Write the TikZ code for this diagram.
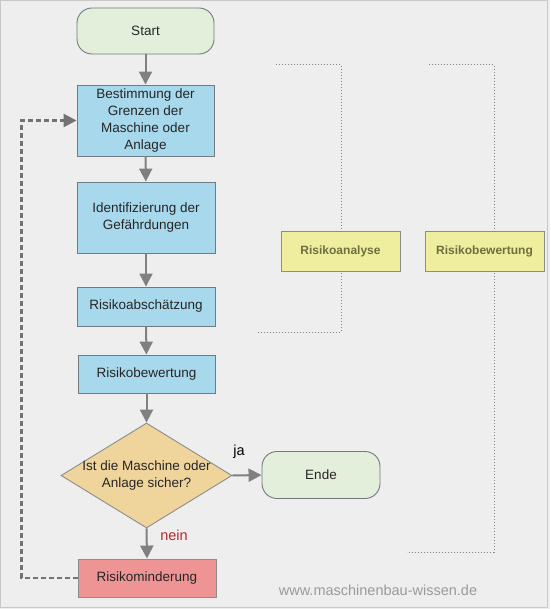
\documentclass[tikz,border=0pt]{standalone}
\usepackage{fontspec}
\setmainfont{Liberation Sans}
\usetikzlibrary{arrows.meta,shapes.geometric}
\definecolor{bg}{HTML}{EEEEEE}
\definecolor{frame}{HTML}{C8C8C8}
\definecolor{greenfill}{HTML}{E3EFDA}
\definecolor{bluefill}{HTML}{A7D8EC}
\definecolor{tanfill}{HTML}{EFD59C}
\definecolor{redfill}{HTML}{EE9494}
\definecolor{yelfill}{HTML}{EEEE9E}
\definecolor{yeltext}{HTML}{6E6E40}
\definecolor{edge}{HTML}{707A80}
\definecolor{arrowgray}{HTML}{808080}
\definecolor{neinred}{HTML}{B5282A}
\definecolor{webgray}{HTML}{9A9A9A}
\begin{document}
\begin{tikzpicture}[x=1pt,y=-1pt,
  base/.style={draw=edge,line width=0.9pt,align=center,inner sep=2pt,font=\fontsize{13.5}{17}\selectfont,text=black!85},
  term/.style={base,fill=greenfill,rounded corners=15pt},
  procbox/.style={base,fill=bluefill},
  decide/.style={base,diamond,aspect=1.63,fill=tanfill,draw=black!45,inner sep=-8pt},
  fixbox/.style={base,fill=redfill,draw=black!45},
  phase/.style={draw=black!45,line width=0.9pt,fill=yelfill,font=\bfseries\fontsize{12}{14}\selectfont,text=yeltext,minimum width=119pt,minimum height=40pt},
  flow/.style={draw=arrowgray,line width=2pt,-{Triangle[length=13pt,width=13pt]}},
  back/.style={draw=black!55,line width=2.5pt,dash pattern=on 5pt off 3pt,-{Triangle[length=13pt,width=13pt]}},
  bracket/.style={draw=black!50,line width=1pt,dotted}
]
\fill[bg] (0,0) rectangle (550,609);
\draw[frame,line width=1pt] (0.5,0.5) rectangle (547.5,607);

% dotted brackets
\draw[bracket] (276,65) -- (341,65) -- (341,332) -- (256,332);
\draw[bracket] (429,65) -- (494,65) -- (494,552) -- (407,552);

\node[phase] (ra) at (340.5,251) {Risikoanalyse};
\node[phase] (rb) at (484.5,251) {Risikobewertung};

\node[term,minimum width=137pt,minimum height=46pt] (start) at (145.5,31) {Start};
\node[procbox,minimum width=137pt,minimum height=71pt] (b1) at (145.5,120.5) {Bestimmung der\\Grenzen der\\Maschine oder\\Anlage};
\node[procbox,minimum width=138pt,minimum height=71pt] (b2) at (146,217.5) {Identifizierung der\\Gefährdungen};
\node[procbox,minimum width=138pt,minimum height=39pt] (b3) at (146,306.5) {Risikoabschätzung};
\node[procbox,minimum width=137pt,minimum height=38pt] (b4) at (146.5,374) {Risikobewertung};
\node[decide,minimum width=171pt,minimum height=105pt] (dia) at (146.5,475.5) {Ist die Maschine oder\\Anlage sicher?};
\node[term,minimum width=118pt,minimum height=47pt] (ende) at (321,475) {Ende};
\node[fixbox,minimum width=138pt,minimum height=38pt] (rm) at (147,578) {Risikominderung};

\draw[flow] (start) -- (b1);
\draw[flow] (b1) -- (b2);
\draw[flow] (b2) -- (b3);
\draw[flow] (b3) -- (b4);
\draw[flow] (b4) -- (dia);
\draw[flow] (dia.east) -- (ende.west);
\draw[flow] (dia.south) -- (rm.north);
\draw[back] (rm.west) -- ++(-56,0) |- (b1.west);

\node[font=\fontsize{14.5}{16}\selectfont] (ja) at (239,452) {ja};
\node[font=\fontsize{14.5}{16}\selectfont,text=neinred] (nein) at (174,535) {nein};
\node[font=\fontsize{14.5}{16}\selectfont,text=webgray] (web) at (378,590) {www.maschinenbau-wissen.de};
\end{tikzpicture}
\end{document}
